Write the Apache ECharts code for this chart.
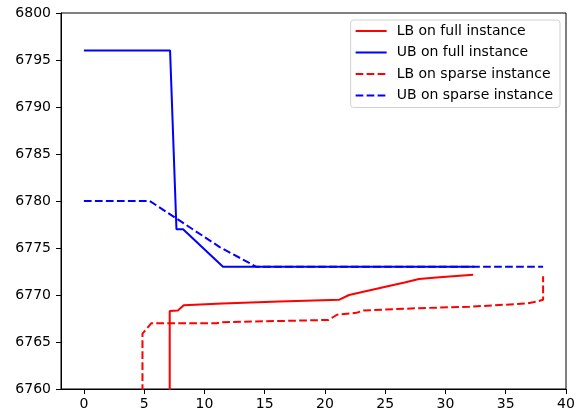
<!DOCTYPE html>
<html>
<head>
<meta charset="utf-8">
<script src="https://cdn.jsdelivr.net/npm/echarts@6/dist/echarts.min.js"></script>
<style>
  html, body { margin: 0; padding: 0; background: #fff; }
  #chart { width: 583px; height: 413px; }
</style>
</head>
<body>
<div id="chart"></div>
<script>
// values
const xTicks = [0, 5, 10, 15, 20, 25, 30, 35, 40]

const lbFullX = [7.12, 7.12, 7.8, 8.28, 11.5, 16.2, 21.2, 22.0, 25.3, 26.7, 27.8, 29.5, 32.3]
const lbFullY = [6700, 6768.3, 6768.35, 6768.9, 6769.1, 6769.3, 6769.5, 6770.0, 6770.95, 6771.35, 6771.7, 6771.9, 6772.15]

const ubFullX = [0, 7.15, 7.68, 8.23, 11.54, 32.4]
const ubFullY = [6796, 6796, 6777, 6777, 6773, 6773]

const lbSparseX = [4.86, 4.86, 5.6, 11.0, 11.5, 20.3, 21.0, 22.6, 23.2, 27.8, 32.0, 36.7, 37.6, 38.1, 38.1]
const lbSparseY = [6700, 6765.9, 6767, 6767, 6767.1, 6767.35, 6767.9, 6768.1, 6768.35, 6768.6, 6768.75, 6769.1, 6769.3, 6769.5, 6772.0]

const ubSparseX = [0, 5.47, 11.27, 14.31, 38.1]
const ubSparseY = [6780, 6780, 6775.1, 6773, 6773]

const zip = (xs, ys) => xs.map((x, i) => [x, ys[i]])
const dash = [7.7, 3.3]

function line(name, xs, ys, color, type) {
  return {
    name, type: 'line', data: zip(xs, ys),
    symbol: 'none', showSymbol: false, clip: true,
    lineStyle: { color, width: 2, type },
    itemStyle: { color }
  }
}

const chart = echarts.init(document.getElementById('chart'))
chart.setOption({
  animation: false,
  textStyle: { fontFamily: 'DejaVu Sans' },
  grid: {
    left: 61, right: 17, top: 13, bottom: 24,
    show: true, borderColor: '#000', borderWidth: 1
  },
  legend: {
    orient: 'vertical', top: 20, right: 23,
    backgroundColor: '#fff', borderColor: '#d0d0d0', borderWidth: 1, borderRadius: 3,
    padding: [4, 7, 5, 4], itemGap: 7.5, itemWidth: 31, itemHeight: 14,
    itemStyle: { opacity: 0 },
    textStyle: { fontSize: 14, color: '#000', fontFamily: 'DejaVu Sans', padding: [0, 0, 0, 5] },
    data: ['LB on full instance', 'UB on full instance', 'LB on sparse instance', 'UB on sparse instance']
  },
  xAxis: {
    type: 'value', min: -1.9, max: 40,
    splitLine: { show: false },
    axisLine: { onZero: false, lineStyle: { color: '#000' } },
    axisTick: { customValues: xTicks, length: 5, lineStyle: { color: '#000' } },
    axisLabel: { customValues: xTicks, fontSize: 14, color: '#000', margin: 8 }
  },
  yAxis: {
    type: 'value', min: 6760, max: 6800, interval: 5,
    splitLine: { show: false },
    axisLine: { show: true, onZero: false, lineStyle: { color: '#000' } },
    axisTick: { show: true, length: 5, lineStyle: { color: '#000' } },
    axisLabel: { fontSize: 14, color: '#000', margin: 10, formatter: v => String(v) }
  },
  series: [
    line('LB on full instance', lbFullX, lbFullY, '#ff0000', 'solid'),
    line('UB on full instance', ubFullX, ubFullY, '#0000ff', 'solid'),
    line('LB on sparse instance', lbSparseX, lbSparseY, '#ff0000', dash),
    line('UB on sparse instance', ubSparseX, ubSparseY, '#0000ff', dash)
  ]
})
</script>
</body>
</html>
